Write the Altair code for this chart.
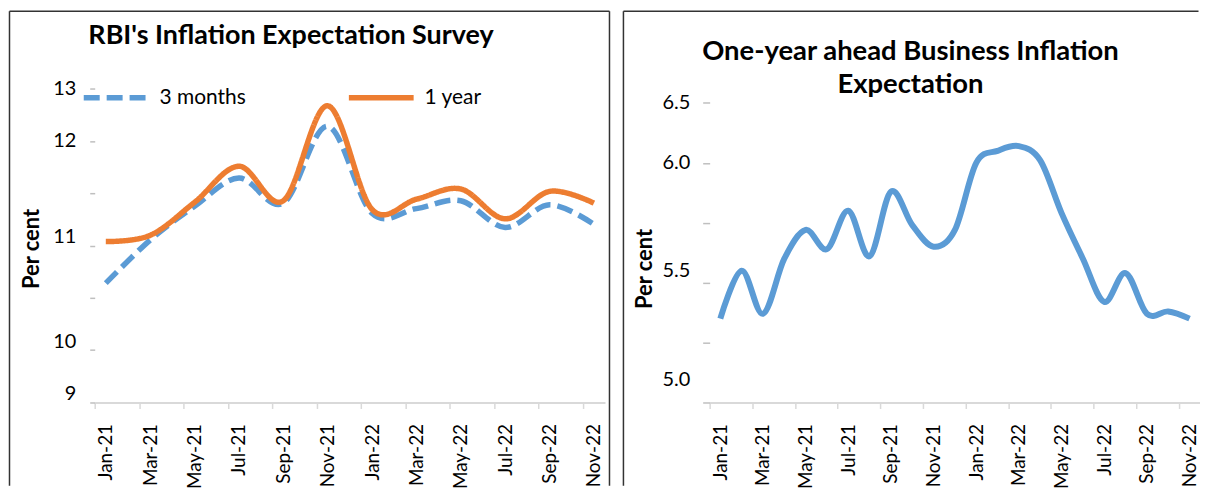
import json
import altair as alt
import pandas as pd

# ---------------- data ----------------
all_months = ["Jan-21", "Feb-21", "Mar-21", "Apr-21", "May-21", "Jun-21", "Jul-21", "Aug-21",
              "Sep-21", "Oct-21", "Nov-21", "Dec-21", "Jan-22", "Feb-22", "Mar-22", "Apr-22",
              "May-22", "Jun-22", "Jul-22", "Aug-22", "Sep-22", "Oct-22", "Nov-22"]
survey_months = ["Jan-21", "Mar-21", "May-21", "Jul-21", "Sep-21", "Nov-21",
                 "Jan-22", "Mar-22", "May-22", "Jul-22", "Sep-22", "Nov-22"]
series_names = ["3 months", "1 year"]
three_months = [10.52, 11.07, 11.50, 11.86, 11.54, 12.52, 11.41, 11.47, 11.57, 11.23, 11.52, 11.27]
one_year = [11.05, 11.13, 11.55, 12.01, 11.57, 12.78, 11.46, 11.59, 11.72, 11.34, 11.69, 11.54]

business_months = all_months
business_expectation = [5.35, 5.55, 5.37, 5.60, 5.72, 5.64, 5.80, 5.61, 5.88, 5.74, 5.65, 5.72,
                        6.00, 6.05, 6.07, 6.01, 5.79, 5.60, 5.42, 5.54, 5.37, 5.38, 5.35]

x_tick_labels = survey_months
left_y_ticks = [9.0, 9.6667, 10.3333, 11.0, 11.6667, 12.3333, 13.0]
left_y_labels = ["9", "10", "", "11", "", "12", "13"]
right_y_ticks = [5.0, 5.25, 5.5, 5.75, 6.0, 6.25]
right_y_labels = ["5.0", "", "5.5", "", "6.0", "6.5"]

left_title = "RBI's Inflation Expectation Survey"
right_title = ["One-year ahead Business Inflation", "Expectation"]
y_title = "Per cent"

# ---------------- styling / layout ----------------
FONT = "Lato"
BLUE = "#5B9BD5"
ORANGE = "#ED7D31"
FRAME = "#333333"
PLOT_TOP = 87          # page y of plot top
PLOT_H = 315
BOTTOM = 485.5         # lowest page y used (keeps the page from scrolling)
L_X0, L_W = 94, 512     # page x of left plot, width
R_X0 = 709.5
R_STEP = 21.4
R_W = 491.5
R_DOMAIN_END = -0.5 + R_W / R_STEP
L_HALF = L_W / 23 / 2
R_HALF = R_STEP / 2


def lx(p):
    return p - L_X0


def rx(p):
    return p - R_X0


def py(p):
    return p - PLOT_TOP


def label_expr(values, labels):
    expr = "''"
    for v, lab in reversed(list(zip(values, labels))):
        expr = f"abs(datum.value - {v}) < 0.01 ? '{lab}' : ({expr})"
    return expr


x_label_expr = json.dumps(all_months) + "[round(datum.value)]"
one_row = pd.DataFrame({"k": [0]})


def rule(xfun, x1, y1, x2=None, y2=None):
    enc = {"x": alt.value(xfun(x1)), "y": alt.value(py(y1))}
    if x2 is not None:
        enc["x2"] = alt.value(xfun(x2))
    if y2 is not None:
        enc["y2"] = alt.value(py(y2))
    return alt.Chart(one_row).mark_rule(color=FRAME, strokeWidth=1.5).encode(**enc)


def x_axis(half, padding):
    return alt.Axis(values=[all_months.index(m) for m in x_tick_labels],
                    labelExpr=x_label_expr, labelAngle=270, tickOffset=-half,
                    labelOffset=half, tickSize=6, labelPadding=padding, labelFontSize=19,
                    domainColor="#D9D9D9", domainWidth=2, tickColor="#D9D9D9",
                    tickWidth=1.5, grid=False)


# ---------------- left chart ----------------
left_df = pd.DataFrame({
    "month": survey_months * 2,
    "m": [all_months.index(m) for m in survey_months] * 2,
    "value": three_months + one_year,
    "series": [series_names[0]] * len(three_months) + [series_names[1]] * len(one_year),
})

legend = alt.Legend(title=None, orient="none", legendX=lx(80), legendY=py(93) - 32.5,
                    direction="horizontal", symbolType="stroke", symbolSize=4225,
                    symbolStrokeWidth=5.5, labelFont=FONT, labelFontSize=21, labelColor="black",
                    columnPadding=92, labelOffset=8, padding=0)

left_x = alt.X("m:Q", title=None,
               scale=alt.Scale(domain=[-0.5, 22.5], nice=False, zero=False),
               axis=x_axis(L_HALF, 15))
left_y = alt.Y("value:Q", title=None,
               scale=alt.Scale(domain=[9, 13], nice=False, zero=False),
               axis=alt.Axis(values=left_y_ticks, labelExpr=label_expr(left_y_ticks, left_y_labels),
                             domain=False, grid=False, tickSize=5, tickColor="#BFBFBF",
                             tickWidth=1.5, labelPadding=14,
                             labelOffset={"condition": {"test": "datum.value < 11.01", "value": -9},
                                          "value": 0}))
color = alt.Color("series:N", scale=alt.Scale(domain=series_names, range=[BLUE, ORANGE]), legend=legend)
dash = alt.StrokeDash("series:N", scale=alt.Scale(domain=series_names, range=[[16, 7], [1, 0]]),
                      legend=legend)

left_base = alt.Chart(left_df).mark_line(interpolate="cardinal", strokeWidth=5.5).encode(
    x=left_x, y=left_y, color=color, strokeDash=dash)
left_blue = left_base.transform_filter(alt.datum.series == series_names[0])
left_orange = left_base.transform_filter(alt.datum.series == series_names[1])

left_title_mark = alt.Chart(one_row).mark_text(
    font=FONT, fontSize=27, fontWeight="bold", align="center", baseline="alphabetic", color="black"
).encode(x=alt.value(lx(291)), y=alt.value(py(42)), text=alt.value(left_title))
left_ytitle = alt.Chart(one_row).mark_text(
    font=FONT, fontSize=22, fontWeight="bold", align="center", baseline="middle", angle=270, color="black"
).encode(x=alt.value(lx(31)), y=alt.value(py(248)), text=alt.value(y_title))

left_frame = [rule(lx, 8.5, 9.5, y2=BOTTOM), rule(lx, 8.5, 9.5, x2=610.5), rule(lx, 610.5, 9.5, y2=BOTTOM)]

left_chart = alt.layer(left_blue, left_orange, left_title_mark, left_ytitle, *left_frame).properties(
    width=L_W, height=PLOT_H)

# ---------------- right chart ----------------
right_df = pd.DataFrame({
    "month": business_months,
    "m": [all_months.index(m) for m in business_months],
    "value": business_expectation,
})

right_x = alt.X("m:Q", title=None,
                scale=alt.Scale(domain=[-0.5, R_DOMAIN_END], nice=False, zero=False),
                axis=x_axis(R_HALF, 15))
right_y = alt.Y("value:Q", title=None,
                scale=alt.Scale(domain=[5.0, 6.31], nice=False, zero=False),
                axis=alt.Axis(values=right_y_ticks, labelExpr=label_expr(right_y_ticks, right_y_labels),
                              domain=False, grid=False, tickSize=7, tickColor="#BFBFBF",
                              tickWidth=1.5, labelPadding=13,
                              labelOffset={"condition": [
                                  {"test": "datum.value < 5.1", "value": -23},
                                  {"test": "datum.value > 5.4 && datum.value < 5.6", "value": -12}],
                                  "value": 0}))

right_line = alt.Chart(right_df).mark_line(interpolate="cardinal", strokeWidth=6, color=BLUE).encode(
    x=right_x, y=right_y)
right_title_mark = alt.Chart(one_row).mark_text(
    font=FONT, fontSize=27.5, fontWeight="bold", align="center", baseline="alphabetic",
    color="black", lineHeight=33
).encode(x=alt.value(rx(911)), y=alt.value(py(58)), text=alt.value(right_title))
right_ytitle = alt.Chart(one_row).mark_text(
    font=FONT, fontSize=22, fontWeight="bold", align="center", baseline="middle", angle=270, color="black"
).encode(x=alt.value(rx(645)), y=alt.value(py(268)), text=alt.value(y_title))
right_frame = [rule(rx, 623, 9.5, y2=BOTTOM), rule(rx, 623, 9.5, x2=1200)]

right_chart = alt.layer(right_line, right_title_mark, right_ytitle, *right_frame).properties(
    width=R_W, height=PLOT_H)

chart = alt.hconcat(left_chart, right_chart, spacing=11).properties(
    padding={"left": 0, "top": 1, "right": 0, "bottom": 0}, background="white"
).configure_view(stroke=None).configure_axis(
    labelFont=FONT, labelFontSize=20, labelColor="black"
)

chart.save("out.html", embed_options={"renderer": "svg", "actions": False})
